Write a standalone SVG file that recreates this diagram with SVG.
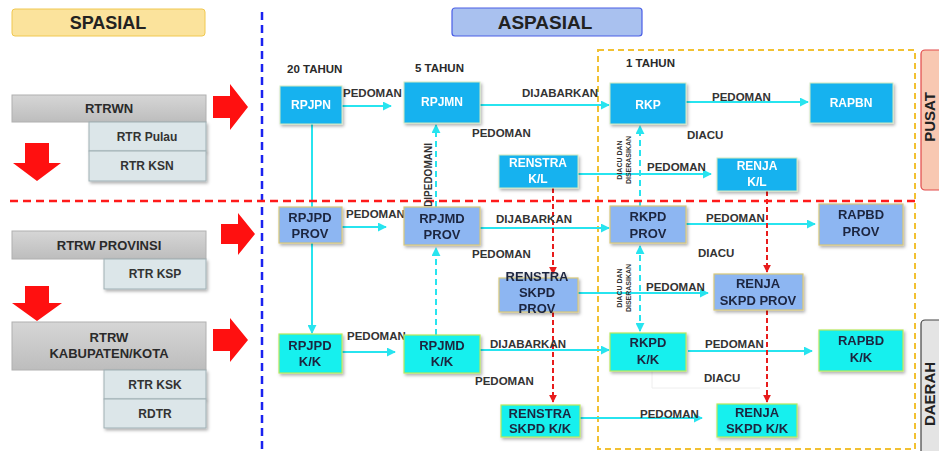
<svg xmlns="http://www.w3.org/2000/svg" width="939" height="451" viewBox="0 0 939 451">
<defs>
<style>
text{font-family:"Liberation Sans",Arial,sans-serif;font-weight:bold}
.lbl{font-size:11.5px;fill:#333}
.yr{font-size:11.5px;fill:#2a2a2a}
.nt{font-size:12px;fill:#fff;text-anchor:middle}
.nd{font-size:13px;fill:#1d2540;text-anchor:middle}
.top{fill:#19b2ef;stroke:#cfe9c0;stroke-width:1}
.prov{fill:#8db6f2;stroke:#d8c77a;stroke-width:1.2}
.kk{fill:#14f0ee;stroke:#b8e85a;stroke-width:1.2}
.main{fill:url(#gray);stroke:#b0b0b0}
.sub{fill:#dce6e9;stroke:#9fb0b4}
.lt{font-size:13px;fill:#2a2a2a;text-anchor:middle}
.st{font-size:12px;fill:#333;text-anchor:middle}
.cy{stroke:#27e4ef;stroke-width:2;fill:none}
.cyd{stroke:#27e4ef;stroke-width:2;fill:none;stroke-dasharray:6 4}
.rd{stroke:#e81c1c;stroke-width:2;fill:none;stroke-dasharray:5 3}
.redarr{fill:#ff1010}
.side{font-size:15px;fill:#222;text-anchor:middle}
</style>
<linearGradient id="gray" x1="0" y1="0" x2="0" y2="1">
<stop offset="0" stop-color="#d6d6d6"/><stop offset="1" stop-color="#bdbdbd"/>
</linearGradient>
<filter id="sh" x="-10%" y="-10%" width="130%" height="140%">
<feDropShadow dx="1.5" dy="2" stdDeviation="1.5" flood-color="#000" flood-opacity="0.3"/>
</filter>
<marker id="ac" viewBox="0 0 10 10" refX="9" refY="5" markerWidth="4.5" markerHeight="4.5" orient="auto-start-reverse">
<path d="M0,0 L10,5 L0,10 Z" fill="#27e4ef"/>
</marker>
<marker id="ar" viewBox="0 0 10 10" refX="9" refY="5" markerWidth="4" markerHeight="4" orient="auto">
<path d="M0,0 L10,5 L0,10 Z" fill="#e81c1c"/>
</marker>
</defs>
<rect width="939" height="451" fill="#fff"/>

<g id="spasial">
<rect x="12" y="9" width="193" height="27" rx="3" fill="#fbe39c" stroke="#f0c850"/>
<text x="108" y="29" font-size="18" fill="#222" text-anchor="middle">SPASIAL</text>
</g>
<g id="aspasial">
<rect x="452" y="8" width="190" height="28" rx="3" fill="#a9c1ef" stroke="#4a5ee6" stroke-width="1.2"/>
<text x="545" y="29" font-size="19" fill="#222" text-anchor="middle">ASPASIAL</text>
</g>

<g id="frames">
<rect x="598" y="50" width="317" height="399" fill="none" stroke="#f2c132" stroke-width="2" stroke-dasharray="6 4"/>
<line x1="262" y1="12" x2="262" y2="451" stroke="#1a22f0" stroke-width="2.5" stroke-dasharray="8 5"/>
</g>

<g id="pusat">
<rect x="921" y="50" width="30" height="140" rx="4" fill="#f8c8b2" stroke="#e24a4a" stroke-width="1.2"/>
<text class="side" transform="translate(935,117) rotate(-90)">PUSAT</text>
</g>
<g id="daerah">
<rect x="921" y="320" width="30" height="140" rx="4" fill="#e4e4e4" stroke="#444" stroke-width="1.2"/>
<text class="side" transform="translate(935,394) rotate(-90)">DAERAH</text>
</g>

<g id="rtrwn">
<rect class="main" x="12" y="95" width="194" height="27"/>
<text class="lt" x="109" y="113">RTRWN</text>
</g>
<g id="rtr-pulau">
<rect class="sub" x="89" y="122" width="117" height="29" filter="url(#sh)"/>
<text class="st" x="147" y="141">RTR Pulau</text>
</g>
<g id="rtr-ksn">
<rect class="sub" x="89" y="151" width="117" height="30" filter="url(#sh)"/>
<text class="st" x="147" y="170">RTR KSN</text>
</g>
<g id="rtrw-prov">
<rect class="main" x="12" y="231" width="194" height="28"/>
<text class="lt" x="109" y="250">RTRW PROVINSI</text>
</g>
<g id="rtr-ksp">
<rect class="sub" x="104" y="259" width="102" height="30" filter="url(#sh)"/>
<text class="st" x="155" y="278">RTR KSP</text>
</g>
<g id="rtrw-kab">
<rect class="main" x="12" y="322" width="194" height="48"/>
<text class="lt" x="109" y="342">RTRW</text>
<text class="lt" x="109" y="358">KABUPATEN/KOTA</text>
</g>
<g id="rtr-ksk">
<rect class="sub" x="104" y="370" width="102" height="29" filter="url(#sh)"/>
<text class="st" x="155" y="389">RTR KSK</text>
</g>
<g id="rdtr">
<rect class="sub" x="104" y="399" width="102" height="29" filter="url(#sh)"/>
<text class="st" x="155" y="418">RDTR</text>
</g>

<g id="red-arrows">
<path class="redarr" d="M213,96 H230 V84 L248,107 L230,130 V118 H213 Z"/>
<path class="redarr" d="M221,224 H238 V213 L255,234 L238,255 V244 H221 Z"/>
<path class="redarr" d="M213,329 H230 V318 L248,340 L230,362 V351 H213 Z"/>
<path class="redarr" d="M25,143 H49 V163 H61 L37,181 L13,163 H25 Z"/>
<path class="redarr" d="M25,286 H49 V303 H62 L37,321 L12,303 H25 Z"/>
</g>

<g id="connectors">
<line class="cy" x1="312" y1="124" x2="312" y2="208"/>
<line class="cy" x1="312" y1="238" x2="312" y2="333" marker-end="url(#ac)"/>
<line class="cyd" x1="436" y1="207" x2="436" y2="125" marker-end="url(#ac)"/>
<line class="cyd" x1="436" y1="335" x2="436" y2="248" marker-end="url(#ac)"/>
<line class="cyd" x1="640" y1="206" x2="640" y2="126" marker-end="url(#ac)"/>
<line class="cyd" x1="640" y1="331" x2="640" y2="246" marker-start="url(#ac)" marker-end="url(#ac)"/>

<line class="cy" x1="342" y1="106" x2="391" y2="106" marker-end="url(#ac)"/>
<line class="cy" x1="480" y1="105" x2="609" y2="105" marker-end="url(#ac)"/>
<line class="cy" x1="686" y1="102" x2="808" y2="102" marker-end="url(#ac)"/>
<line class="cy" x1="578" y1="174" x2="711" y2="174" marker-end="url(#ac)"/>

<line class="cy" x1="342" y1="227" x2="386" y2="227" marker-end="url(#ac)"/>
<line class="cy" x1="480" y1="228" x2="609" y2="228" marker-end="url(#ac)"/>
<line class="cy" x1="686" y1="224" x2="815" y2="224" marker-end="url(#ac)"/>
<line class="cy" x1="578" y1="293" x2="708" y2="293" marker-end="url(#ac)"/>

<line class="cy" x1="342" y1="352" x2="395" y2="352" marker-end="url(#ac)"/>
<line class="cy" x1="480" y1="350" x2="609" y2="350" marker-end="url(#ac)"/>
<line class="cy" x1="688" y1="351" x2="812" y2="351" marker-end="url(#ac)"/>
<line class="cy" x1="580" y1="418" x2="702" y2="418" marker-end="url(#ac)"/>

<line class="rd" x1="553" y1="188" x2="553" y2="274" marker-end="url(#ar)"/>
<line class="rd" x1="553" y1="312" x2="553" y2="402" marker-end="url(#ar)"/>
<line class="rd" x1="767" y1="191" x2="767" y2="272" marker-end="url(#ar)"/>
<line class="rd" x1="767" y1="310" x2="767" y2="402" marker-end="url(#ar)"/>

<path d="M652,371 V388 H760" fill="none" stroke="#eeeeee" stroke-width="1"/>
</g>

<line id="divider" x1="10" y1="201" x2="920" y2="201" stroke="#ff1a1a" stroke-width="2.5" stroke-dasharray="8 5"/>

<g id="labels">
<text class="yr" x="287" y="73">20 TAHUN</text>
<text class="yr" x="415" y="72">5 TAHUN</text>
<text class="yr" x="626" y="67">1 TAHUN</text>
<text class="lbl" x="343" y="97">PEDOMAN</text>
<text class="lbl" x="522" y="97">DIJABARKAN</text>
<text class="lbl" x="472" y="137">PEDOMAN</text>
<text class="lbl" x="687" y="139">DIACU</text>
<text class="lbl" x="712" y="101">PEDOMAN</text>
<text class="lbl" x="647" y="171">PEDOMAN</text>
<text transform="translate(432,175) rotate(-90)" font-size="10" fill="#333" text-anchor="middle">DIPEDOMANI</text>
<text transform="translate(622,160) rotate(-90)" font-size="7" fill="#333" text-anchor="middle">DIACU DAN</text>
<text transform="translate(631,160) rotate(-90)" font-size="7" fill="#333" text-anchor="middle">DISERASIKAN</text>
<text transform="translate(622,288) rotate(-90)" font-size="7" fill="#333" text-anchor="middle">DIACU DAN</text>
<text transform="translate(631,288) rotate(-90)" font-size="7" fill="#333" text-anchor="middle">DISERASIKAN</text>

<text class="lbl" x="346" y="218">PEDOMAN</text>
<text class="lbl" x="496" y="223">DIJABARKAN</text>
<text class="lbl" x="472" y="258">PEDOMAN</text>
<text class="lbl" x="706" y="222">PEDOMAN</text>
<text class="lbl" x="698" y="257">DIACU</text>
<text class="lbl" x="646" y="291">PEDOMAN</text>

<text class="lbl" x="347" y="340">PEDOMAN</text>
<text class="lbl" x="490" y="348">DIJABARKAN</text>
<text class="lbl" x="475" y="385">PEDOMAN</text>
<text class="lbl" x="705" y="348">PEDOMAN</text>
<text class="lbl" x="704" y="382">DIACU</text>
<text class="lbl" x="640" y="418">PEDOMAN</text>
</g>

<g id="rpjpn" filter="url(#sh)">
<rect class="top" x="280" y="86" width="62" height="38"/>
<text class="nt" x="311" y="109">RPJPN</text>
</g>
<g id="rpjmn" filter="url(#sh)">
<rect class="top" x="404" y="82" width="76" height="41"/>
<text class="nt" x="442" y="106">RPJMN</text>
</g>
<g id="rkp" filter="url(#sh)">
<rect class="top" x="610" y="83" width="76" height="41"/>
<text class="nt" x="648" y="109">RKP</text>
</g>
<g id="rapbn" filter="url(#sh)">
<rect class="top" x="810" y="83" width="83" height="40"/>
<text class="nt" x="851" y="107">RAPBN</text>
</g>
<g id="renstra-kl" filter="url(#sh)">
<rect class="top" x="499" y="155" width="79" height="33"/>
<text class="nt" x="538" y="167">RENSTRA</text>
<text class="nt" x="538" y="183">K/L</text>
</g>
<g id="renja-kl" filter="url(#sh)">
<rect class="top" x="717" y="158" width="80" height="33"/>
<text class="nt" x="757" y="170">RENJA</text>
<text class="nt" x="757" y="186">K/L</text>
</g>

<g id="rpjpd-prov" filter="url(#sh)">
<rect class="prov" x="279" y="207" width="63" height="36"/>
<text class="nd" x="310" y="222">RPJPD</text>
<text class="nd" x="310" y="238">PROV</text>
</g>
<g id="rpjmd-prov" filter="url(#sh)">
<rect class="prov" x="404" y="207" width="76" height="38"/>
<text class="nd" x="442" y="223">RPJMD</text>
<text class="nd" x="442" y="239">PROV</text>
</g>
<g id="rkpd-prov" filter="url(#sh)">
<rect class="prov" x="610" y="206" width="76" height="37"/>
<text class="nd" x="648" y="221">RKPD</text>
<text class="nd" x="648" y="238">PROV</text>
</g>
<g id="rapbd-prov" filter="url(#sh)">
<rect class="prov" x="819" y="204" width="84" height="41"/>
<text class="nd" x="861" y="219">RAPBD</text>
<text class="nd" x="861" y="236">PROV</text>
</g>
<g id="renstra-skpd-prov" filter="url(#sh)">
<rect class="prov" x="499" y="278" width="79" height="34"/>
<text class="nd" x="537" y="281">RENSTRA</text>
<text class="nd" x="537" y="297">SKPD</text>
<text class="nd" x="537" y="313">PROV</text>
</g>
<g id="renja-skpd-prov" filter="url(#sh)">
<rect class="prov" x="714" y="274" width="89" height="36"/>
<text class="nd" x="758" y="288">RENJA</text>
<text class="nd" x="758" y="305">SKPD PROV</text>
</g>

<g id="rpjpd-kk" filter="url(#sh)">
<rect class="kk" x="279" y="334" width="63" height="39"/>
<text class="nd" x="310" y="350">RPJPD</text>
<text class="nd" x="310" y="366">K/K</text>
</g>
<g id="rpjmd-kk" filter="url(#sh)">
<rect class="kk" x="404" y="335" width="76" height="38"/>
<text class="nd" x="442" y="350">RPJMD</text>
<text class="nd" x="442" y="366">K/K</text>
</g>
<g id="rkpd-kk" filter="url(#sh)">
<rect class="kk" x="610" y="333" width="76" height="38"/>
<text class="nd" x="648" y="347">RKPD</text>
<text class="nd" x="648" y="364">K/K</text>
</g>
<g id="rapbd-kk" filter="url(#sh)">
<rect class="kk" x="819" y="330" width="84" height="41"/>
<text class="nd" x="861" y="345">RAPBD</text>
<text class="nd" x="861" y="362">K/K</text>
</g>
<g id="renstra-skpd-kk" filter="url(#sh)">
<rect class="kk" x="501" y="405" width="79" height="32"/>
<text class="nd" x="540" y="418">RENSTRA</text>
<text class="nd" x="540" y="433">SKPD K/K</text>
</g>
<g id="renja-skpd-kk" filter="url(#sh)">
<rect class="kk" x="717" y="404" width="80" height="33"/>
<text class="nd" x="757" y="417">RENJA</text>
<text class="nd" x="757" y="433">SKPD K/K</text>
</g>
</svg>
